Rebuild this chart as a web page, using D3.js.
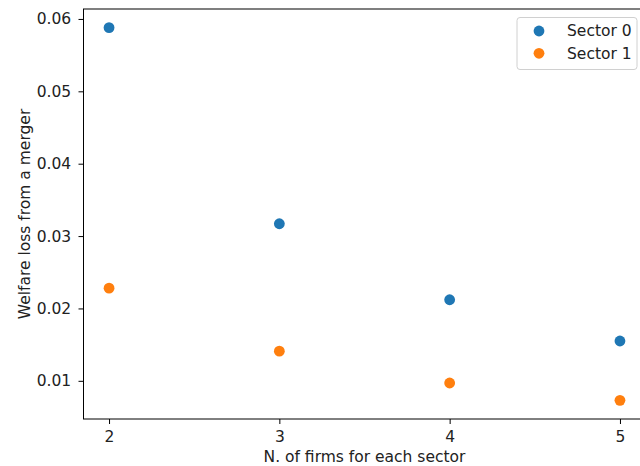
<!DOCTYPE html>
<html>
<head>
<meta charset="utf-8">
<script src="https://cdn.jsdelivr.net/npm/d3@7"></script>
<style>
  html, body { margin: 0; padding: 0; background: #fff; }
  svg { display: block; font-family: "DejaVu Sans", sans-serif; }
</style>
</head>
<body>
<svg id="chart" width="640" height="466"></svg>
<script>
const firms = [2, 3, 4, 5];
const sector0 = [0.0588, 0.0317, 0.0212, 0.0155];
const sector1 = [0.0228, 0.0141, 0.0097, 0.0073];
const seriesNames = ["Sector 0", "Sector 1"];
const seriesColors = ["#1f77b4", "#ff7f0e"];
const yTicks = [0.01, 0.02, 0.03, 0.04, 0.05, 0.06];
const xTicks = [2, 3, 4, 5];

const FS = "15.5px";
const svg = d3.select("#chart");
const margin = { left: 83.5, right: 645.5, top: 9, bottom: 419 };

const xExt = d3.extent(firms);
const xPad = (xExt[1] - xExt[0]) * 0.05;
const x = d3.scaleLinear().domain([xExt[0] - xPad, xExt[1] + xPad]).range([margin.left, margin.right]);

const allY = sector0.concat(sector1);
const yExt = d3.extent(allY);
const yPad = (yExt[1] - yExt[0]) * 0.05;
const y = d3.scaleLinear().domain([yExt[0] - yPad, yExt[1] + yPad]).range([margin.bottom, margin.top]);

// axes
const xAxis = d3.axisBottom(x).tickValues(xTicks).tickFormat(d3.format("d")).tickSize(5).tickPadding(6.5);
const yAxis = d3.axisLeft(y).tickValues(yTicks).tickFormat(d3.format(".2f")).tickSize(5).tickPadding(7.3);

const gx = svg.append("g").attr("transform", `translate(0,${margin.bottom})`).call(xAxis);
const gy = svg.append("g").attr("transform", `translate(${margin.left},0)`).call(yAxis);
[gx, gy].forEach(g => {
  g.select(".domain").remove();
  g.selectAll(".tick line").attr("stroke", "#000").attr("stroke-width", 1);
  g.selectAll(".tick text").attr("fill", "#222").style("font-size", FS).style("font-family", "DejaVu Sans, sans-serif");
});

// spines
svg.append("rect")
  .attr("x", margin.left).attr("y", margin.top)
  .attr("width", margin.right - margin.left).attr("height", margin.bottom - margin.top)
  .attr("fill", "none").attr("stroke", "#000").attr("stroke-width", 1);

// points
const series = [sector0, sector1];
series.forEach((vals, i) => {
  svg.append("g").selectAll("circle")
    .data(vals.map((v, j) => ({ x: firms[j], y: v })))
    .join("circle")
    .attr("cx", d => x(d.x))
    .attr("cy", d => y(d.y))
    .attr("r", 5.4)
    .attr("fill", seriesColors[i]);
});

// axis labels
svg.append("text")
  .attr("x", (margin.left + margin.right) / 2)
  .attr("y", 462)
  .attr("text-anchor", "middle")
  .attr("fill", "#222")
  .style("font-size", FS)
  .text("N. of firms for each sector");

svg.append("text")
  .attr("transform", `translate(30,${(margin.top + margin.bottom) / 2}) rotate(-90)`)
  .attr("text-anchor", "middle")
  .attr("fill", "#222")
  .style("font-size", FS)
  .text("Welfare loss from a merger");

// legend
const lg = svg.append("g");
lg.append("rect")
  .attr("x", 517).attr("y", 17.5)
  .attr("width", 120).attr("height", 52)
  .attr("rx", 3).attr("ry", 3)
  .attr("fill", "#fff").attr("fill-opacity", 0.8)
  .attr("stroke", "#d0d0d0").attr("stroke-width", 1);
seriesNames.forEach((name, i) => {
  const yy = 31 + i * 22.3;
  lg.append("circle").attr("cx", 539).attr("cy", yy).attr("r", 5.4).attr("fill", seriesColors[i]);
  lg.append("text").attr("x", 567).attr("y", yy + 5.3)
    .attr("fill", "#222").style("font-size", FS).text(name);
});
</script>
</body>
</html>
